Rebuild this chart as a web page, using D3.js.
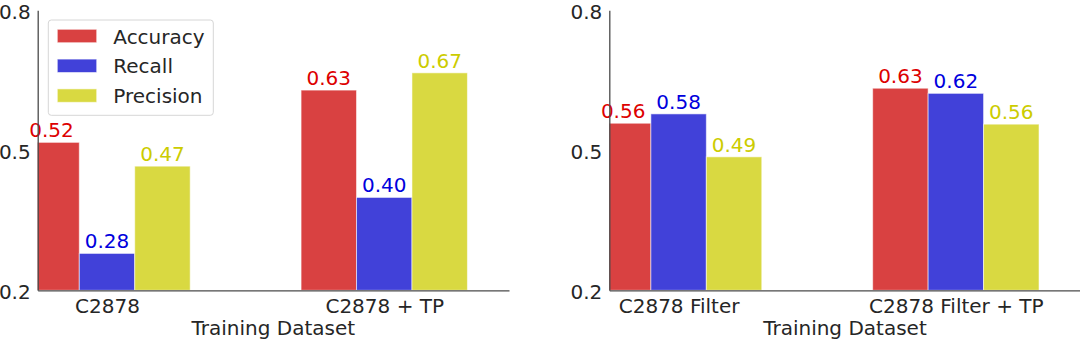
<!DOCTYPE html>
<html>
<head>
<meta charset="utf-8">
<script src="https://cdn.jsdelivr.net/npm/d3@7"></script>
<style>
  html, body { margin: 0; padding: 0; background: #fff; }
  svg { display: block; font-family: "DejaVu Sans", sans-serif; }
</style>
</head>
<body>
<svg id="chart" width="1080" height="344"></svg>
<script>
// ---- data ----
const seriesNames = ["Accuracy", "Recall", "Precision"];
const leftCategories = ["C2878", "C2878 + TP"];
const rightCategories = ["C2878 Filter", "C2878 Filter + TP"];
const leftAccuracy = [0.517, 0.629];
const leftRecall = [0.279, 0.399];
const leftPrecision = [0.466, 0.666];
const rightAccuracy = [0.558, 0.633];
const rightRecall = [0.578, 0.622];
const rightPrecision = [0.486, 0.556];
const yTicks = [0.2, 0.5, 0.8];
const xAxisTitle = "Training Dataset";

// ---- styles ----
const barColors = ["#d94141", "#4141d9", "#d9d941"];
const labelColors = ["#dd0000", "#0000dd", "#cccc00"];
const textColor = "#262626";
const axisColor = "#4a4a4a";
const FS = 20;

const svg = d3.select("#chart");

function panel(opts) {
  const { x0, x1, categories, series, legend, id } = opts;
  const yTop = 10.3, yBot = 290.3;
  const x = d3.scaleLinear().domain([-0.25, 1.45]).range([x0, x1]);
  const y = d3.scaleLinear().domain([0.2, 0.8]).range([yBot, yTop]);
  const barW = 0.2;

  const defs = svg.append("defs");
  defs.append("clipPath").attr("id", "clip" + id)
    .append("rect").attr("x", x0).attr("y", 0)
    .attr("width", x1 - x0).attr("height", yBot);

  const g = svg.append("g");
  const bars = g.append("g").attr("clip-path", `url(#clip${id})`);
  series.forEach((vals, s) => {
    vals.forEach((v, i) => {
      const cx = i + (s - 1) * barW;
      bars.append("rect")
        .attr("x", x(cx - barW / 2))
        .attr("width", x(cx + barW / 2) - x(cx - barW / 2))
        .attr("y", y(v))
        .attr("height", y(0.2) - y(v))
        .attr("fill", barColors[s])
        .attr("stroke", "#ffffff")
        .attr("stroke-opacity", 0.55)
        .attr("stroke-width", 1);
      g.append("text")
        .attr("x", x(cx))
        .attr("y", y(v) - 5)
        .attr("text-anchor", "middle")
        .attr("font-size", FS)
        .attr("fill", labelColors[s])
        .text(v.toFixed(2));
    });
  });

  // axes
  const yAxis = g.append("g").attr("transform", `translate(${x0},0)`)
    .call(d3.axisLeft(y).tickValues(yTicks).tickFormat(d3.format(".1f")).tickSize(0).tickPadding(7));
  yAxis.selectAll("text").attr("font-size", FS).attr("fill", textColor)
    .attr("font-family", "DejaVu Sans").attr("dy", "0.42em");
  yAxis.select(".domain").attr("stroke", axisColor).attr("stroke-width", 1.3);

  const xAxis = g.append("g").attr("transform", `translate(0,${yBot})`)
    .call(d3.axisBottom(x).tickValues([0, 1]).tickFormat(i => categories[i]).tickSize(0).tickPadding(8.5));
  xAxis.selectAll("text").attr("font-size", FS).attr("fill", textColor)
    .attr("font-family", "DejaVu Sans");
  xAxis.select(".domain").attr("stroke", axisColor).attr("stroke-width", 1.3);

  g.append("text")
    .attr("x", (x0 + x1) / 2)
    .attr("y", 334.5)
    .attr("text-anchor", "middle")
    .attr("font-size", FS)
    .attr("fill", textColor)
    .text(xAxisTitle);

  if (legend) {
    const lg = g.append("g");
    lg.append("rect")
      .attr("x", 48.3).attr("y", 20)
      .attr("width", 165).attr("height", 95.3)
      .attr("rx", 3).attr("ry", 3)
      .attr("fill", "#ffffff").attr("fill-opacity", 0.8)
      .attr("stroke", "#d6d6d6").attr("stroke-width", 1);
    seriesNames.forEach((name, s) => {
      const cy = 36 + s * 29.8;
      lg.append("rect")
        .attr("x", 57.3).attr("y", cy - 6.7)
        .attr("width", 39.4).attr("height", 13.4)
        .attr("fill", barColors[s])
        .attr("stroke", "#ffffff").attr("stroke-opacity", 0.55);
      lg.append("text")
        .attr("x", 113.3).attr("y", cy + 7.5)
        .attr("font-size", FS)
        .attr("fill", textColor)
        .text(name);
    });
  }
}

panel({
  id: "L", x0: 37.7, x1: 509,
  categories: leftCategories,
  series: [leftAccuracy, leftRecall, leftPrecision],
  legend: true
});
panel({
  id: "R", x0: 609.3, x1: 1080.6,
  categories: rightCategories,
  series: [rightAccuracy, rightRecall, rightPrecision],
  legend: false
});
</script>
</body>
</html>
